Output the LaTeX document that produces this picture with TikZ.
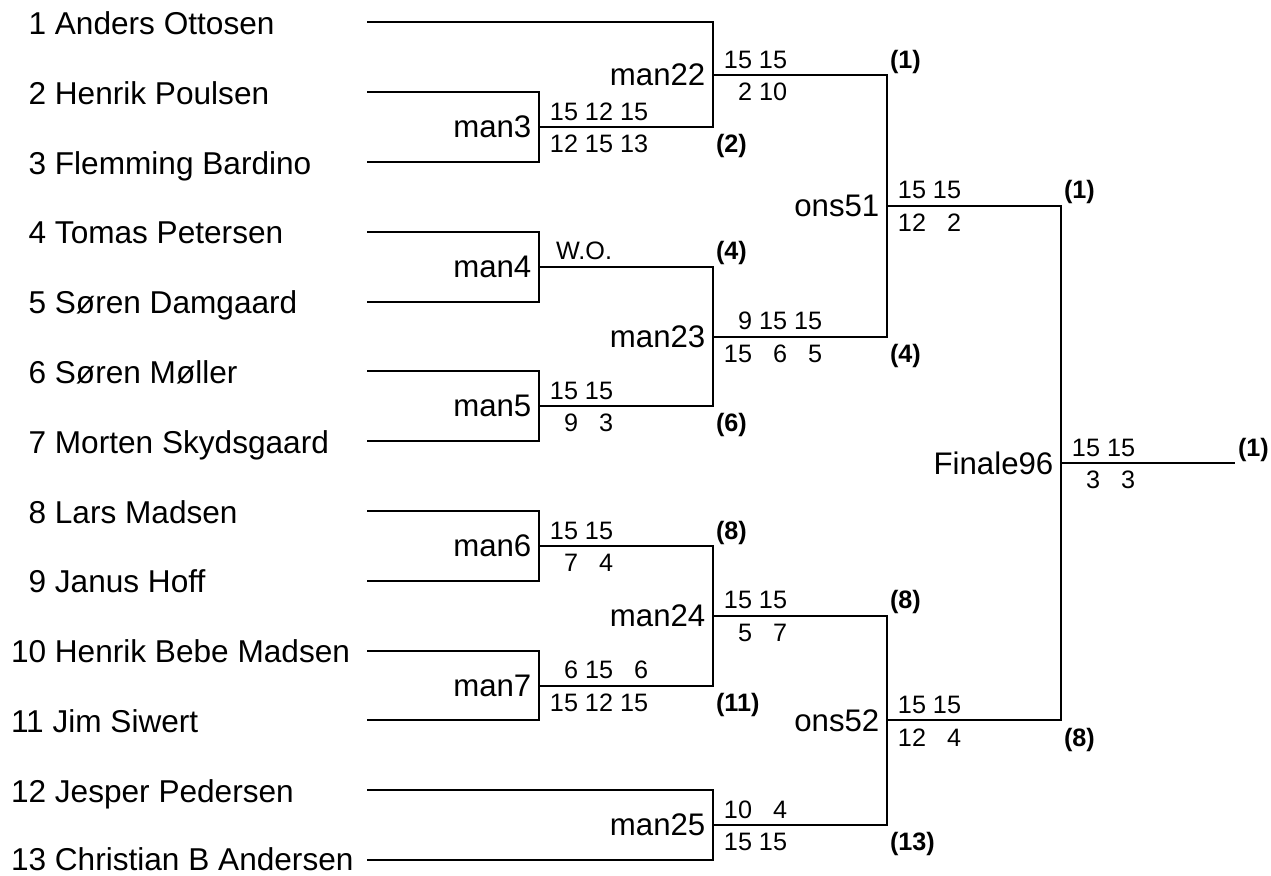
\documentclass[tikz,border=0pt]{standalone}
\usepackage{fontspec}
\setmainfont{Liberation Sans}
\newcommand{\gm}[1]{\makebox[1.112em][r]{#1}}

\begin{document}
\begin{tikzpicture}[x=0.5pt,y=-0.5pt,line width=1pt,
  player/.style={anchor=base west,inner sep=0pt,yshift=-6pt,font=\fontsize{15.8}{18}\selectfont},
  mname/.style={font=\fontsize{15.6}{18}\selectfont},
  sctop/.style={anchor=base west,inner sep=0pt,xshift=5pt,yshift=3.4pt,font=\fontsize{12.6}{15}\selectfont},
  scbot/.style={anchor=base west,inner sep=0pt,xshift=5pt,yshift=-12.8pt,font=\fontsize{12.6}{15}\selectfont},
  wintop/.style={anchor=base west,inner sep=0pt,xshift=1pt,yshift=3.4pt,font=\fontsize{12.6}{15}\selectfont\bfseries},
  winbot/.style={anchor=base west,inner sep=0pt,xshift=1pt,yshift=-12.8pt,font=\fontsize{12.6}{15}\selectfont\bfseries}]
\useasboundingbox (0,0) rectangle (1271,876);

%players
\node[player] (n1) at (10,22.5) {\hphantom{1}1 Anders Ottosen};
\node[player] (n2) at (10,92.3) {\hphantom{1}2 Henrik Poulsen};
\node[player] (n3) at (10,162.1) {\hphantom{1}3 Flemming Bardino};
\node[player] (n4) at (10,231.9) {\hphantom{1}4 Tomas Petersen};
\node[player] (n5) at (10,301.7) {\hphantom{1}5 Søren Damgaard};
\node[player] (n6) at (10,371.5) {\hphantom{1}6 Søren Møller};
\node[player] (n7) at (10,441.3) {\hphantom{1}7 Morten Skydsgaard};
\node[player] (n8) at (10,511.1) {\hphantom{1}8 Lars Madsen};
\node[player] (n9) at (10,580.9) {\hphantom{1}9 Janus Hoff};
\node[player] (n10) at (10,650.7) {10 Henrik Bebe Madsen};
\node[player] (n11) at (10,720.5) {11 Jim Siwert};
\node[player] (n12) at (10,790.3) {12 Jesper Pedersen};
\node[player] (n13) at (10,858.5) {13 Christian B Andersen};

\coordinate (p1) at (367,22.5);
\coordinate (p2) at (367,92.3);
\coordinate (p3) at (367,162.1);
\coordinate (p4) at (367,231.9);
\coordinate (p5) at (367,301.7);
\coordinate (p6) at (367,371.5);
\coordinate (p7) at (367,441.3);
\coordinate (p8) at (367,511.1);
\coordinate (p9) at (367,580.9);
\coordinate (p10) at (367,650.7);
\coordinate (p11) at (367,720.5);
\coordinate (p12) at (367,790.3);
\coordinate (p13) at (367,860.1);

%matches
\coordinate[label={[mname]left:man3}] (m3) at (539,127.2);
\coordinate[label={[mname]left:man4}] (m4) at (539,266.8);
\coordinate[label={[mname]left:man5}] (m5) at (539,406.4);
\coordinate[label={[mname]left:man6}] (m6) at (539,546);
\coordinate[label={[mname]left:man7}] (m7) at (539,685.6);
\coordinate[label={[mname]left:man22}] (m22) at (713,74.9);
\coordinate[label={[mname]left:man23}] (m23) at (713,336.6);
\coordinate[label={[mname]left:man24}] (m24) at (713,615.8);
\coordinate[label={[mname]left:man25}] (m25) at (713,825.2);
\coordinate[label={[mname]left:ons51}] (o51) at (887,205.8);
\coordinate[label={[mname]left:ons52}] (o52) at (887,720.5);
\coordinate[label={[mname]left:Finale96}] (f96) at (1061,463.1);
\coordinate (w) at (1235,463.1);

\draw (p1) -| (m22);
\draw (p2) -| (m3);
\draw (p3) -| (m3);
\draw (p4) -| (m4);
\draw (p5) -| (m4);
\draw (p6) -| (m5);
\draw (p7) -| (m5);
\draw (p8) -| (m6);
\draw (p9) -| (m6);
\draw (p10) -| (m7);
\draw (p11) -| (m7);
\draw (p12) -| (m25);
\draw (p13) -| (m25);
\draw (m3) -| (m22);
\draw (m4) -| (m23);
\draw (m5) -| (m23);
\draw (m6) -| (m24);
\draw (m7) -| (m24);
\draw (m22) -| (o51);
\draw (m23) -| (o51);
\draw (m24) -| (o52);
\draw (m25) -| (o52);
\draw (o51) -| (f96);
\draw (o52) -| (f96);
\draw (f96) -- (w);

%scores
\node[sctop] at (m3) {\gm{15} \gm{12} \gm{15}};
\node[scbot] at (m3) {\gm{12} \gm{15} \gm{13}};
\node[sctop,xshift=3pt] at (m4) {W.O.};
\node[sctop] at (m5) {\gm{15} \gm{15}};
\node[scbot] at (m5) {\gm{9} \gm{3}};
\node[sctop] at (m6) {\gm{15} \gm{15}};
\node[scbot] at (m6) {\gm{7} \gm{4}};
\node[sctop] at (m7) {\gm{6} \gm{15} \gm{6}};
\node[scbot] at (m7) {\gm{15} \gm{12} \gm{15}};
\node[sctop] at (m22) {\gm{15} \gm{15}};
\node[scbot] at (m22) {\gm{2} \gm{10}};
\node[sctop] at (m23) {\gm{9} \gm{15} \gm{15}};
\node[scbot] at (m23) {\gm{15} \gm{6} \gm{5}};
\node[sctop] at (m24) {\gm{15} \gm{15}};
\node[scbot] at (m24) {\gm{5} \gm{7}};
\node[sctop] at (m25) {\gm{10} \gm{4}};
\node[scbot] at (m25) {\gm{15} \gm{15}};
\node[sctop] at (o51) {\gm{15} \gm{15}};
\node[scbot] at (o51) {\gm{12} \gm{2}};
\node[sctop] at (o52) {\gm{15} \gm{15}};
\node[scbot] at (o52) {\gm{12} \gm{4}};
\node[sctop] at (f96) {\gm{15} \gm{15}};
\node[scbot] at (f96) {\gm{3} \gm{3}};

%winners
\node[winbot] at (m3 -| m22) {(2)};
\node[wintop] at (m4 -| m23) {(4)};
\node[winbot] at (m5 -| m23) {(6)};
\node[wintop] at (m6 -| m24) {(8)};
\node[winbot] at (m7 -| m24) {(11)};
\node[wintop] at (m22 -| o51) {(1)};
\node[winbot] at (m23 -| o51) {(4)};
\node[wintop] at (m24 -| o52) {(8)};
\node[winbot] at (m25 -| o52) {(13)};
\node[wintop] at (o51 -| f96) {(1)};
\node[winbot] at (o52 -| f96) {(8)};
\node[wintop] at (w) {(1)};
\end{tikzpicture}
\end{document}
